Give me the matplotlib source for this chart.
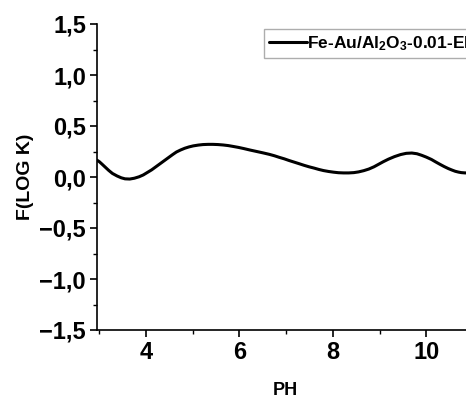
import matplotlib
matplotlib.use("Agg")
import matplotlib.pyplot as plt
from matplotlib.ticker import MultipleLocator, FuncFormatter

ph = [2.95, 3.00, 3.06, 3.13, 3.20, 3.28, 3.38, 3.47, 3.55, 3.65, 3.75, 3.85, 3.94,
      4.03, 4.12, 4.21, 4.30, 4.39, 4.48, 4.57, 4.65, 4.74, 4.83, 4.92, 5.01, 5.12,
      5.22, 5.33, 5.43, 5.54, 5.65, 5.76, 5.86, 5.98, 6.10, 6.22, 6.35, 6.50, 6.64,
      6.75, 6.85, 6.96, 7.06, 7.17, 7.28, 7.38, 7.49, 7.60, 7.70, 7.80, 7.91, 8.02,
      8.12, 8.23, 8.34, 8.45, 8.55, 8.66, 8.77, 8.88, 8.98, 9.08, 9.19, 9.32, 9.45,
      9.57, 9.69, 9.80, 9.90, 10.00, 10.11, 10.20, 10.29, 10.38, 10.47, 10.55,
      10.62, 10.69, 10.75, 10.83, 10.90]
flogk = [0.165, 0.15, 0.125, 0.095, 0.065, 0.035, 0.01, -0.008, -0.018, -0.02, -0.012,
         0.002, 0.02, 0.045, 0.07, 0.10, 0.13, 0.16, 0.19, 0.22, 0.245, 0.265, 0.282,
         0.295, 0.305, 0.313, 0.318, 0.32, 0.32, 0.318, 0.314, 0.308, 0.30, 0.29,
         0.278, 0.265, 0.252, 0.237, 0.222, 0.208, 0.193, 0.178, 0.162, 0.146, 0.13,
         0.115, 0.10, 0.087, 0.074, 0.063, 0.054, 0.047, 0.042, 0.04, 0.04, 0.043,
         0.05, 0.062, 0.078, 0.10, 0.125, 0.15, 0.175, 0.20, 0.22, 0.232, 0.235,
         0.228, 0.213, 0.195, 0.172, 0.148, 0.125, 0.103, 0.083, 0.068, 0.056, 0.048,
         0.043, 0.04, 0.04]
series_label = r"Fe-Au/Al$_\mathbf{2}$O$_\mathbf{3}$-0.01-EE"
xlabel = "PH"
ylabel = "F(LOG K)"

plt.rcParams['font.family'] = ['Liberation Sans', 'DejaVu Sans']
plt.rcParams['font.weight'] = 'bold'
plt.rcParams['mathtext.fontset'] = 'custom'
plt.rcParams['mathtext.rm'] = 'Liberation Sans:bold'
plt.rcParams['mathtext.bf'] = 'Liberation Sans:bold'
plt.rcParams['mathtext.default'] = 'bf'

W, H = 466, 395
fig = plt.figure(figsize=(W/100, H/100), dpi=100)
ax = fig.add_axes([97/W, 1-330/H, 376/W, 306/H])

line, = ax.plot(ph, flogk, color='black', lw=2.2, label=series_label,
                solid_joinstyle='round', solid_capstyle='round')
ax.set_xlim(2.95, 11.0)
ax.set_ylim(-1.5, 1.5)

for s in ['top', 'right']:
    ax.spines[s].set_visible(False)
for s in ['left', 'bottom']:
    ax.spines[s].set_linewidth(1.2)

ax.xaxis.set_major_locator(MultipleLocator(2))
ax.xaxis.set_minor_locator(MultipleLocator(1))
ax.yaxis.set_major_locator(MultipleLocator(0.5))
ax.yaxis.set_minor_locator(MultipleLocator(0.25))
fmt = FuncFormatter(lambda v, p: ("%.1f" % v).replace('.', ',').replace('-', '\u2212') if abs(v) > 1e-9 else "0,0")
ax.yaxis.set_major_formatter(fmt)
ax.xaxis.set_major_formatter(FuncFormatter(lambda v, p: "%d" % round(v)))
ax.tick_params(which='major', direction='out', length=5, width=1.2, labelsize=17, pad=3)
ax.tick_params(which='minor', direction='out', length=3, width=1.0)
for lab in ax.get_xticklabels() + ax.get_yticklabels():
    lab.set_fontweight('bold')

ax.set_xlabel(xlabel, fontsize=13, fontweight='bold', va='top')
ax.set_ylabel(ylabel, fontsize=14, fontweight='bold', va='center')
ax.xaxis.set_label_coords(0.5, -(382-330)/306)
ax.yaxis.set_label_coords(-(97-25)/376, 0.5)

leg = fig.legend(handles=[line], loc='upper left', bbox_to_anchor=(264/W, 1-29/H),
                 prop={'weight': 'bold', 'size': 12.5}, frameon=True, fancybox=False,
                 handlelength=2.2, handletextpad=0.0, borderpad=0.3, borderaxespad=0)
leg.get_frame().set_edgecolor('#999999')
leg.get_frame().set_linewidth(1.0)

fig.savefig('out.png', dpi=100)
